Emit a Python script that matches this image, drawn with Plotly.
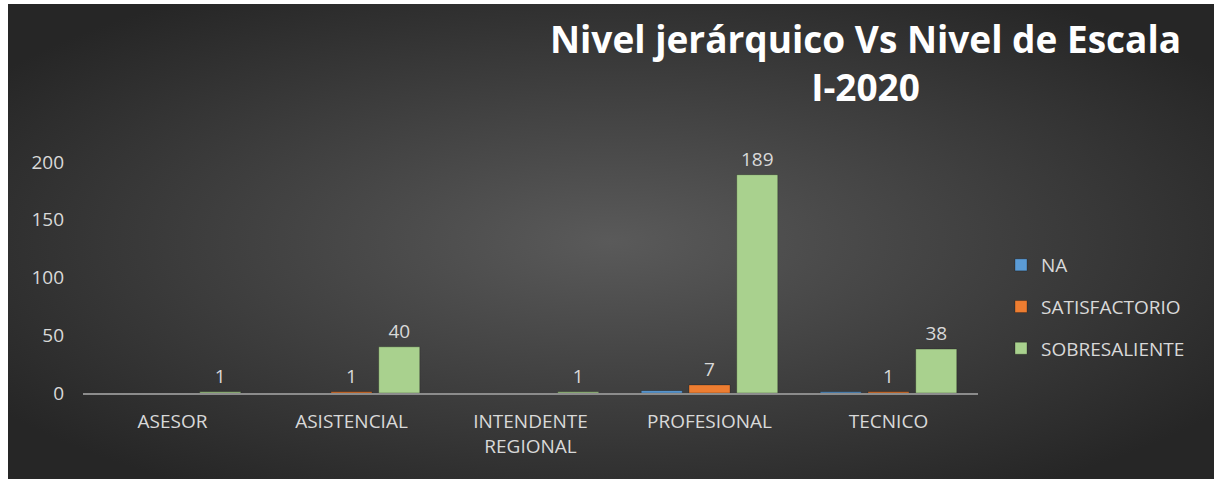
import base64
import plotly.graph_objects as go

categories = ["ASESOR", "ASISTENCIAL", "INTENDENTE<br>REGIONAL", "PROFESIONAL", "TECNICO"]
na_values = [None, None, None, 2, 1]
satisfactorio_values = [None, 1, None, 7, 1]
sobresaliente_values = [1, 40, 1, 189, 38]
y_ticks = [0, 50, 100, 150, 200]

W, H = 1214, 479
L, R, T, B = 83, 236, 162, 86
pw, ph = W - L - R, H - T - B

FONT = "Open Sans"
LABEL = "#d9d9d9"

svg = (
    '<svg xmlns="http://www.w3.org/2000/svg" width="1206" height="475" viewBox="0 0 1206 475" preserveAspectRatio="none">'
    '<defs><radialGradient id="g" cx="0.5" cy="0.5" r="0.62" fx="0.5" fy="0.5">'
    '<stop offset="0" stop-color="#5a5a5a"/><stop offset="1" stop-color="#262626"/>'
    '</radialGradient></defs><rect width="1206" height="475" fill="url(#g)"/></svg>'
)
src = "data:image/svg+xml;base64," + base64.b64encode(svg.encode()).decode()

fig = go.Figure()
series = [
    ("NA", na_values, "#5B9BD5", False),
    ("SATISFACTORIO", satisfactorio_values, "#ED7D31", True),
    ("SOBRESALIENTE", sobresaliente_values, "#A9D18E", True),
]
for i, (name, vals, color, show) in enumerate(series):
    fig.add_trace(go.Bar(
        name=name, x=categories, y=vals,
        marker=dict(color=color, line=dict(color="rgba(0,0,0,0.25)", width=1)),
        text=[("" if v is None else str(v)) for v in vals] if show else None,
        textposition="outside", cliponaxis=False,
        textfont=dict(family=FONT, size=19, color=LABEL),
        legendgroup=name,
    ))

fig.update_layout(
    width=W, height=H,
    margin=dict(l=L, r=R, t=T, b=B, pad=0),
    paper_bgcolor="white", plot_bgcolor="rgba(0,0,0,0)",
    barmode="group", bargap=0.2, bargroupgap=0.14,
    font=dict(family=FONT, size=19, color=LABEL),
    annotations=[dict(
        text="<b>Nivel jerárquico Vs Nivel de Escala<br>I-2020</b>",
        xref="paper", yref="paper",
        x=(865 - L) / pw, xanchor="center",
        y=(H - B - 62) / ph, yanchor="middle",
        showarrow=False, align="center",
        font=dict(family=FONT, size=37, color="white"),
    )],
    legend=dict(
        xref="container", yref="container", x=1001 / W, xanchor="left",
        y=1 - 307 / H, yanchor="middle",
        font=dict(family=FONT, size=19, color=LABEL),
        bgcolor="rgba(0,0,0,0)", tracegroupgap=14, itemwidth=30,
    ),
    images=[dict(
        source=src, xref="paper", yref="paper",
        x=(8 - L) / pw, y=(H - B - 4) / ph,
        sizex=(W - 8) / pw, sizey=(H - 4) / ph,
        xanchor="left", yanchor="top", sizing="stretch", layer="below",
    )],
    showlegend=True,
)
fig.update_xaxes(
    showline=True, linecolor="#8c8c8c", linewidth=2, showgrid=False,
    ticks="", tickfont=dict(family=FONT, size=19, color=LABEL),
    ticklabelstandoff=10,
)
fig.update_yaxes(
    range=[0, 200], tickvals=y_ticks, showgrid=False, zeroline=False,
    showline=False, ticks="", tickfont=dict(family=FONT, size=19, color=LABEL),
    ticklabelstandoff=18,
)

fig.write_html("out.html", config={"displayModeBar": False},
               post_script="document.body.style.margin='0px';")
